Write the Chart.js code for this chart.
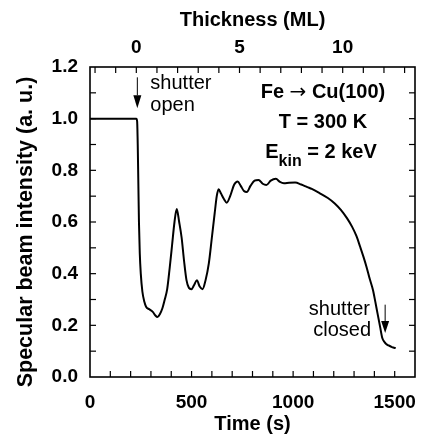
<!DOCTYPE html>
<html><head><meta charset="utf-8">
<script src="https://cdn.jsdelivr.net/npm/chart.js@4.4.1/dist/chart.umd.min.js"></script>
<style>html,body{margin:0;padding:0;background:#fff}#wrap{width:429px;height:436px}</style>
</head><body><div id="wrap"><canvas id="c" width="429" height="436"></canvas></div>
<script>
// ---- data ----
const timeS = [0,100,200,228,232,235,238,241,245,250,258,268,276,292,309,322,332,345,356,368,380,392,404,416,427,439,451,463,475,487,499,512,526,540,554,569,585,600,614,624,633,645,660,673,690,710,727,742,758,772,790,810,830,850,868,890,915,935,955,980,1010,1040,1070,1092,1130,1171,1205,1235,1265,1290,1312,1330,1346,1361,1377,1393,1405,1415,1428,1439,1450,1458,1470,1481,1493,1505];
const intensity = [1.0,1.0,1.0,1.0,0.99,0.9,0.75,0.6,0.48,0.40,0.33,0.29,0.272,0.262,0.252,0.238,0.232,0.245,0.265,0.30,0.34,0.42,0.51,0.60,0.65,0.60,0.54,0.45,0.375,0.345,0.34,0.355,0.375,0.35,0.34,0.375,0.44,0.54,0.635,0.70,0.727,0.71,0.688,0.675,0.70,0.745,0.757,0.74,0.72,0.716,0.74,0.76,0.763,0.748,0.743,0.76,0.767,0.755,0.75,0.752,0.753,0.745,0.735,0.728,0.712,0.693,0.672,0.647,0.615,0.582,0.545,0.504,0.466,0.427,0.38,0.337,0.29,0.248,0.195,0.151,0.135,0.128,0.122,0.118,0.114,0.112];
const timeTickLabels = [0, 500, 1000, 1500];
const intensityTickLabels = [0.0, 0.2, 0.4, 0.6, 0.8, 1.0, 1.2];
const thicknessTickLabels = [0, 5, 10];
const timeRange = [0, 1600];
const intensityRange = [0, 1.2];
const shutterOpenTime = 228;   // s  (thickness 0 ML)
const secondsPerML = 101.6;    // s per monolayer
const shutterClosedTime = 1453;

const FONT = '"Liberation Sans", Arial, Helvetica, sans-serif';

const ticksInward = {
  id: 'ticksInward',
  afterDraw(chart) {
    const ctx = chart.ctx, a = chart.chartArea;
    ctx.save();
    ctx.strokeStyle = '#000';
    ctx.lineWidth = 1.2;
    const L = 6;
    const isWhole = (v, s) => Math.abs(v / s - Math.round(v / s)) < 1e-6;
    [['x', 100, 'bottom'], ['x2', 1, 'top'], ['y', 0.1, 'left'], ['y2', 0.1, 'right']].forEach(([id, step, pos]) => {
      const sc = chart.scales[id];
      sc.ticks.forEach(t => {
        if (!isWhole(t.value, step)) return;
        const p = sc.getPixelForValue(t.value);
        ctx.beginPath();
        if (pos === 'bottom') { if (p < a.left + 1 || p > a.right - 1) return; ctx.moveTo(p, a.bottom); ctx.lineTo(p, a.bottom - L); }
        if (pos === 'top') { if (p < a.left + 1 || p > a.right - 1) return; ctx.moveTo(p, a.top); ctx.lineTo(p, a.top + L); }
        if (pos === 'left') { if (p < a.top + 1 || p > a.bottom - 1) return; ctx.moveTo(a.left, p); ctx.lineTo(a.left + L, p); }
        if (pos === 'right') { if (p < a.top + 1 || p > a.bottom - 1) return; ctx.moveTo(a.right, p); ctx.lineTo(a.right - L, p); }
        ctx.stroke();
      });
    });
    ctx.lineWidth = 1.6;
    ctx.strokeRect(a.left, a.top, a.right - a.left, a.bottom - a.top);
    ctx.restore();
  }
};

function arrowDown(ctx, x, y0, y1, headLen, headW) {
  ctx.beginPath();
  ctx.moveTo(x, y0); ctx.lineTo(x, y1 - headLen);
  ctx.stroke();
  ctx.beginPath();
  ctx.moveTo(x - headW / 2, y1 - headLen);
  ctx.lineTo(x + headW / 2, y1 - headLen);
  ctx.lineTo(x, y1);
  ctx.closePath();
  ctx.fill();
}

const annotations = {
  id: 'annotations',
  afterDraw(chart) {
    const ctx = chart.ctx, xs = chart.scales.x, ys = chart.scales.y;
    ctx.save();
    ctx.fillStyle = '#000'; ctx.strokeStyle = '#000'; ctx.lineWidth = 1;
    // y axis title (slightly below the plot centre, as in the reference)
    ctx.save();
    ctx.translate(26, 232);
    ctx.rotate(-Math.PI / 2);
    ctx.textAlign = 'center'; ctx.textBaseline = 'middle';
    ctx.font = 'bold 21.5px ' + FONT;
    ctx.fillText('Specular beam intensity (a. u.)', 0, 0);
    ctx.restore();

    // shutter arrows
    const xo = xs.getPixelForValue(shutterOpenTime + 5);
    arrowDown(ctx, xo, ys.getPixelForValue(1.16), ys.getPixelForValue(1.04), 13, 8);
    const xc = xs.getPixelForValue(shutterClosedTime);
    arrowDown(ctx, xc, ys.getPixelForValue(0.28), ys.getPixelForValue(0.17), 12, 8);

    ctx.textBaseline = 'middle';
    ctx.font = '20px ' + FONT;
    ctx.textAlign = 'left';
    ctx.fillText('shutter', xo + 13, 83);
    ctx.fillText('open', xo + 13, 105);
    ctx.textAlign = 'right';
    ctx.fillText('shutter', 370, 309);
    ctx.fillText('closed', 371, 330);

    // Fe -> Cu(100)
    const fB = 'bold 20px ' + FONT, fArrow = '20px "DejaVu Sans", sans-serif';
    ctx.font = fB; const w1 = ctx.measureText('Fe ').width, w3 = ctx.measureText(' Cu(100)').width;
    ctx.font = fArrow; const w2 = ctx.measureText('\u2192').width;
    let xa = 323 - (w1 + w2 + w3) / 2;
    ctx.textAlign = 'left';
    ctx.font = fB; ctx.fillText('Fe ', xa, 92);
    ctx.font = fArrow; ctx.fillText('\u2192', xa + w1, 93);
    ctx.font = fB; ctx.fillText(' Cu(100)', xa + w1 + w2, 92);

    ctx.textAlign = 'center';
    ctx.font = fB;
    ctx.fillText('T = 300 K', 323, 122);
    // E_kin = 2 keV
    const fSub = 'bold 16px ' + FONT;
    ctx.font = fB; const wE = ctx.measureText('E').width; const wR = ctx.measureText(' = 2 keV').width;
    ctx.font = fSub; const wS = ctx.measureText('kin').width;
    let x0 = 321 - (wE + wS + wR) / 2;
    ctx.textAlign = 'left';
    ctx.font = fB; ctx.fillText('E', x0, 152);
    ctx.font = fSub; ctx.fillText('kin', x0 + wE, 162);
    ctx.font = fB; ctx.fillText(' = 2 keV', x0 + wE + wS, 152);
    ctx.restore();
  }
};

const near = (v, list) => list.some(l => Math.abs(v - l) < 1e-6);

new Chart(document.getElementById('c'), {
  type: 'line',
  data: {
    datasets: [{
      data: timeS.map((t, i) => ({ x: t, y: intensity[i] })),
      borderColor: '#000', borderWidth: 2, pointRadius: 0,
      cubicInterpolationMode: 'monotone', fill: false
    }]
  },
  options: {
    responsive: false, animation: false, devicePixelRatio: 1,
    layout: { padding: { left: 0, right: 2, top: 0, bottom: 0 } },
    plugins: { legend: { display: false }, tooltip: { enabled: false } },
    scales: {
      x: {
        type: 'linear', position: 'bottom', min: timeRange[0], max: timeRange[1],
        grid: { display: false, drawTicks: false }, border: { display: false },
        ticks: { stepSize: 100, autoSkip: false, maxRotation: 0, padding: 14, color: '#000',
          font: { family: FONT, size: 19, weight: 'bold' },
          callback: v => near(v, timeTickLabels) ? String(v) : '' },
        title: { display: true, text: 'Time (s)', color: '#000', padding: { top: 0, bottom: 0 },
          font: { family: FONT, size: 20, weight: 'bold' } },
        afterFit: s => { s.height = 59; }
      },
      x2: {
        type: 'linear', position: 'top',
        min: (timeRange[0] - shutterOpenTime) / secondsPerML,
        max: (timeRange[1] - shutterOpenTime) / secondsPerML,
        grid: { display: false, drawTicks: false }, border: { display: false },
        ticks: { stepSize: 1, includeBounds: false, autoSkip: false, maxRotation: 0, padding: 8, color: '#000',
          font: { family: FONT, size: 19, weight: 'bold' },
          callback: v => near(v, thicknessTickLabels) ? String(Math.round(v)) : '' },
        title: { display: true, text: 'Thickness (ML)', color: '#000', padding: { top: 8, bottom: 0 },
          font: { family: FONT, size: 20, weight: 'bold' } },
        afterFit: s => { s.height = 67; }
      },
      y: {
        type: 'linear', position: 'left', min: intensityRange[0], max: intensityRange[1],
        grid: { display: false, drawTicks: false }, border: { display: false },
        ticks: { stepSize: 0.1, autoSkip: false, padding: 12, color: '#000',
          font: { family: FONT, size: 19, weight: 'bold' },
          callback: v => near(v, intensityTickLabels) ? v.toFixed(1) : '' },
        title: { display: false },
        afterFit: s => { s.width = 90; }
      },
      y2: {
        type: 'linear', position: 'right', min: intensityRange[0], max: intensityRange[1],
        grid: { display: false, drawTicks: false }, border: { display: false },
        ticks: { display: false, stepSize: 0.1 },
        afterFit: s => { s.width = 0; }
      }
    }
  },
  plugins: [ticksInward, annotations]
});
</script>
</body></html>
